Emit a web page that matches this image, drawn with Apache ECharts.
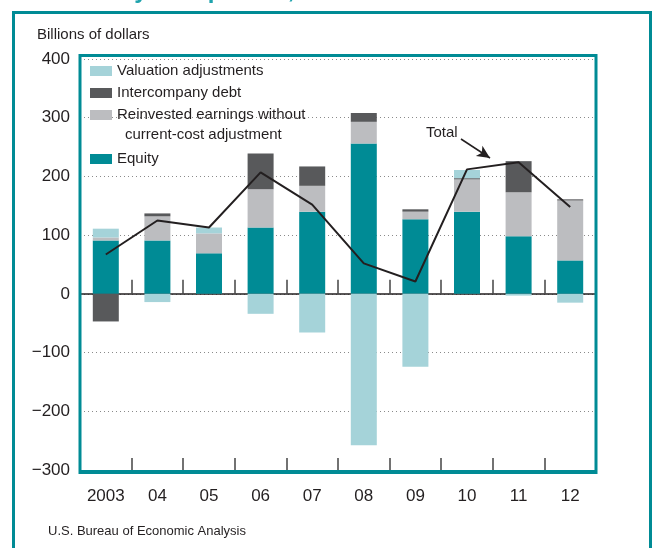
<!DOCTYPE html>
<html>
<head>
<meta charset="utf-8">
<script src="https://cdn.jsdelivr.net/npm/echarts@6/dist/echarts.min.js"></script>
<style>
  html, body { margin: 0; padding: 0; background: #fff; }
  #chart { width: 652px; height: 548px; }
</style>
</head>
<body>
<div id="chart"></div>
<script>
// values, billions of dollars
const years = ['2003', '04', '05', '06', '07', '08', '09', '10', '11', '12']
const equity = [91, 91, 69, 113, 140, 256, 127, 140, 98, 57]
const reinvested = [5, 41, 34, 65, 44, 37, 13, 55, 75, 102]
const intercompany = [-47, 5, 0, 61, 33, 15, 4, 2, 53, 2]
const valuation = [15, -14, 10, -34, -66, -258, -124, 14, -3, -15]
const total = [67, 125, 113, 207, 152, 52, 21, 212, 224, 148]

const TEAL = '#008b95'
const INK = '#231f20'
const FONT = '"Liberation Sans", Arial, sans-serif'

const chart = echarts.init(document.getElementById('chart'), null, { renderer: 'canvas' })

function barSeries(name, data, color) {
  return {
    name: name,
    type: 'bar',
    stack: 'fdi',
    barWidth: 26,
    data: data,
    itemStyle: { color: color },
    silent: true
  }
}

chart.setOption({
  animation: false,
  backgroundColor: '#fff',
  textStyle: { fontFamily: FONT },
  grid: { left: 80, top: 59, width: 516, height: 411 },
  legend: [
    {
      data: ['Valuation adjustments', 'Intercompany debt', 'Reinvested earnings without current-cost adjustment'],
      orient: 'vertical',
      left: 90,
      top: 60,
      padding: 0,
      itemGap: 0,
      itemWidth: 22,
      itemHeight: 10,
      icon: 'rect',
      selectedMode: false,
      formatter: name => name.replace(' current-cost adjustment', ''),
      textStyle: { fontSize: 15, color: INK, lineHeight: 22, fontFamily: FONT }
    },
    {
      data: ['Equity'],
      orient: 'vertical',
      left: 90,
      top: 148,
      padding: 0,
      itemWidth: 22,
      itemHeight: 10,
      icon: 'rect',
      selectedMode: false,
      textStyle: { fontSize: 15, color: INK, lineHeight: 22, fontFamily: FONT }
    }
  ],
  xAxis: [
    {
      type: 'category',
      data: years,
      position: 'bottom',
      axisLine: { show: true, onZero: false, lineStyle: { color: TEAL, width: 1 } },
      axisTick: { show: true, inside: true, length: 12, lineStyle: { color: '#444', width: 1.5 } },
      axisLabel: { fontSize: 17, color: INK, margin: 18, fontFamily: FONT }
    },
    {
      type: 'category',
      data: years,
      position: 'bottom',
      axisLine: { show: true, onZero: true, lineStyle: { color: INK, width: 1.5 } },
      axisTick: { show: true, inside: true, length: 14, lineStyle: { color: '#444', width: 1.5 } },
      axisLabel: { show: false }
    }
  ],
  yAxis: {
    type: 'value',
    min: -300,
    max: 400,
    interval: 100,
    axisLine: { show: false },
    axisTick: { show: false },
    axisLabel: {
      fontSize: 17,
      color: INK,
      margin: 10,
      fontFamily: FONT,
      formatter: v => String(v).replace('-', '\u2212')
    },
    splitLine: { lineStyle: { color: '#8a8a8a', width: 1, type: [1, 3] } }
  },
  series: [
    barSeries('Equity', equity, TEAL),
    barSeries('Reinvested earnings without current-cost adjustment', reinvested, '#bcbdc0'),
    barSeries('Intercompany debt', intercompany, '#58595b'),
    barSeries('Valuation adjustments', valuation, '#a5d3d9'),
    {
      name: 'Total',
      type: 'line',
      data: total,
      showSymbol: false,
      silent: true,
      lineStyle: { color: INK, width: 2 },
      z: 5,
      markLine: {
        silent: true,
        symbol: ['none', 'arrow'],
        symbolSize: [9, 13],
        label: { show: false },
        lineStyle: { color: INK, width: 1.5, type: 'solid' },
        data: [[{ x: 461, y: 139 }, { x: 490, y: 158 }]]
      }
    }
  ],
  graphic: [
    {
      type: 'text',
      left: 45,
      top: -21,
      style: { text: 'Flows by Component, 2003\u201312', fill: '#1fa3ad', font: 'bold 24px ' + FONT }
    },
    {
      type: 'rect',
      shape: { x: 13.5, y: 12.5, width: 637, height: 600 },
      style: { fill: null, stroke: TEAL, lineWidth: 3 },
      z: 100
    },
    {
      type: 'rect',
      shape: { x: 80, y: 55.5, width: 516, height: 417 },
      style: { fill: null, stroke: TEAL, lineWidth: 3 },
      z: 100
    },
    {
      type: 'text',
      left: 37,
      top: 27,
      style: { text: 'Billions of dollars', fill: INK, font: '15px ' + FONT }
    },
    {
      type: 'text',
      left: 125,
      top: 127,
      style: { text: 'current-cost adjustment', fill: INK, font: '15px ' + FONT }
    },
    {
      type: 'text',
      left: 426,
      top: 125,
      style: { text: 'Total', fill: INK, font: '15px ' + FONT }
    },
    {
      type: 'text',
      left: 48,
      top: 525,
      style: { text: 'U.S. Bureau of Economic Analysis', fill: INK, font: '13px ' + FONT }
    }
  ]
})
</script>
</body>
</html>
